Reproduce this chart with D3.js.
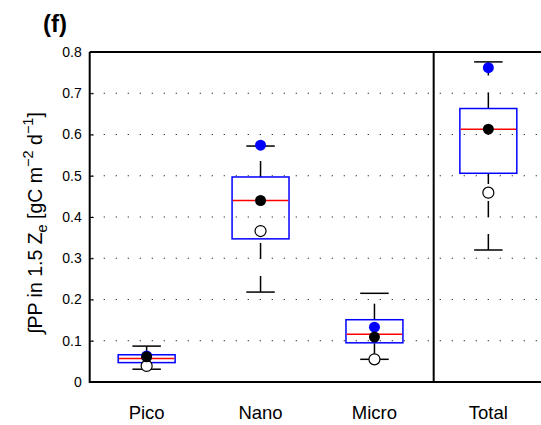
<!DOCTYPE html>
<html>
<head>
<meta charset="utf-8">
<script src="https://cdn.jsdelivr.net/npm/d3@7"></script>
<style>
  html, body { margin: 0; padding: 0; background: #fff; }
  svg { display: block; font-family: "Liberation Sans", Arial, Helvetica, sans-serif; }
</style>
</head>
<body>
<svg id="chart" width="541" height="425"></svg>
<script>
// Size classes along the x axis (positions 1..4)
const categories = ["Pico", "Nano", "Micro", "Total"];
// Box-plot statistics, gC m^-2 d^-1
const whiskerLow  = [0.031, 0.218, 0.055, 0.320];
const quartile1   = [0.047, 0.347, 0.095, 0.506];
const medians     = [0.057, 0.440, 0.116, 0.613];
const quartile3   = [0.066, 0.497, 0.151, 0.663];
const whiskerHigh = [0.087, 0.572, 0.215, 0.776];
// Reference estimates overlaid on each box
const blueValues  = [0.063, 0.574, 0.133, 0.762];
const blackValues = [0.061, 0.440, 0.109, 0.613];
const openValues  = [0.039, 0.366, 0.055, 0.459];
// Axis ticks
const yTicks = [0, 0.1, 0.2, 0.3, 0.4, 0.5, 0.6, 0.7, 0.8];
// Separator between the size classes and the total
const separatorAt = 3.52;

const svg = d3.select("#chart");
const x = d3.scaleLinear().domain([0.5, 4.5]).range([89.7, 545.3]);
const y = d3.scaleLinear().domain([0, 0.8]).range([382, 52]);
const unit = x(2) - x(1);
const boxW = unit * 0.5, capW = unit * 0.25;

// dotted horizontal grid
svg.append("g").selectAll("line")
  .data(yTicks.filter(t => t > 0 && t < 0.8))
  .join("line")
  .attr("x1", x(0.5) + 2).attr("x2", 541)
  .attr("y1", d => y(d)).attr("y2", d => y(d))
  .attr("stroke", "#222").attr("stroke-width", 1.2)
  .attr("stroke-dasharray", "1.2,10.8");

// y axis with inward ticks
const yAxis = d3.axisLeft(y).tickValues(yTicks).tickSize(-4).tickPadding(8)
  .tickFormat(d => d === 0 ? "0" : d3.format(".1f")(d));
const gy = svg.append("g").attr("transform", `translate(${x(0.5)},0)`).call(yAxis);
gy.select(".domain").remove();
gy.selectAll(".tick line").attr("stroke", "#000").attr("stroke-width", 1);
gy.selectAll(".tick text").attr("font-size", 14).attr("fill", "#000")
  .attr("font-family", "Liberation Sans, Arial, sans-serif");

// frame: left, bottom, top
svg.append("line").attr("x1", x(0.5)).attr("x2", x(0.5)).attr("y1", y(0.8)).attr("y2", y(0) + 1)
  .attr("stroke", "#000").attr("stroke-width", 2);
svg.append("line").attr("x1", x(0.5)).attr("x2", 541).attr("y1", y(0)).attr("y2", y(0))
  .attr("stroke", "#000").attr("stroke-width", 1.8);
svg.append("line").attr("x1", x(0.5)).attr("x2", 541).attr("y1", y(0.8)).attr("y2", y(0.8))
  .attr("stroke", "#000").attr("stroke-width", 1.8);
// separator
svg.append("line").attr("x1", x(separatorAt)).attr("x2", x(separatorAt))
  .attr("y1", y(0.8)).attr("y2", y(0))
  .attr("stroke", "#000").attr("stroke-width", 2);

const idx = d3.range(categories.length);
const pos = i => x(i + 1);

// whiskers (dashed, drawn upward from the lower end)
const gw = svg.append("g").attr("stroke", "#000").attr("stroke-width", 1.5).attr("fill", "none");
idx.forEach(i => {
  gw.append("line").attr("x1", pos(i)).attr("x2", pos(i))
    .attr("y1", y(quartile3[i])).attr("y2", y(whiskerHigh[i]))
    .attr("stroke-dasharray", "16,17");
  gw.append("line").attr("x1", pos(i)).attr("x2", pos(i))
    .attr("y1", y(whiskerLow[i])).attr("y2", y(quartile1[i]))
    .attr("stroke-dasharray", "16,17");
  [whiskerLow[i], whiskerHigh[i]].forEach(v => {
    gw.append("line").attr("x1", pos(i) - capW / 2).attr("x2", pos(i) + capW / 2)
      .attr("y1", y(v)).attr("y2", y(v));
  });
});

// boxes
svg.append("g").selectAll("rect").data(idx).join("rect")
  .attr("x", i => pos(i) - boxW / 2).attr("width", boxW)
  .attr("y", i => y(quartile3[i])).attr("height", i => y(quartile1[i]) - y(quartile3[i]))
  .attr("fill", "none").attr("stroke", "#0000ff").attr("stroke-width", 1.5);

// medians
svg.append("g").selectAll("line").data(idx).join("line")
  .attr("x1", i => pos(i) - boxW / 2 + 0.75).attr("x2", i => pos(i) + boxW / 2 - 0.75)
  .attr("y1", i => y(medians[i])).attr("y2", i => y(medians[i]))
  .attr("stroke", "#ff0000").attr("stroke-width", 1.5);

// overlaid markers
const r = 5.5;
svg.append("g").selectAll("circle").data(idx).join("circle")
  .attr("cx", pos).attr("cy", i => y(openValues[i])).attr("r", r)
  .attr("fill", "#fff").attr("stroke", "#000").attr("stroke-width", 1.2);
svg.append("g").selectAll("circle").data(idx).join("circle")
  .attr("cx", pos).attr("cy", i => y(blueValues[i])).attr("r", r)
  .attr("fill", "#0000ff");
svg.append("g").selectAll("circle").data(idx).join("circle")
  .attr("cx", pos).attr("cy", i => y(blackValues[i])).attr("r", r)
  .attr("fill", "#000");

// category labels
svg.append("g").selectAll("text").data(idx).join("text")
  .attr("x", pos).attr("y", 419).attr("text-anchor", "middle")
  .attr("font-size", 18.5).attr("fill", "#000")
  .text(i => categories[i]);

// y label
const yl = svg.append("text")
  .attr("transform", `translate(42,${(y(0) + y(0.8)) / 2 + 6}) rotate(-90)`)
  .attr("text-anchor", "middle").attr("font-size", 19.5).attr("fill", "#000");
yl.append("tspan").text("\u222BPP in 1.5 Z");
yl.append("tspan").attr("dy", 5).attr("font-size", 14.5).text("e");
yl.append("tspan").attr("dy", -5).text(" [gC m");
yl.append("tspan").attr("dy", -9).attr("font-size", 14.5).text("\u22122");
yl.append("tspan").attr("dy", 9).text(" d");
yl.append("tspan").attr("dy", -9).attr("font-size", 14.5).text("\u22121");
yl.append("tspan").attr("dy", 9).text("]");

// panel letter
svg.append("text").attr("x", 43).attr("y", 32)
  .attr("font-size", 24).attr("font-weight", "bold").attr("fill", "#000")
  .text("(f)");
</script>
</body>
</html>
